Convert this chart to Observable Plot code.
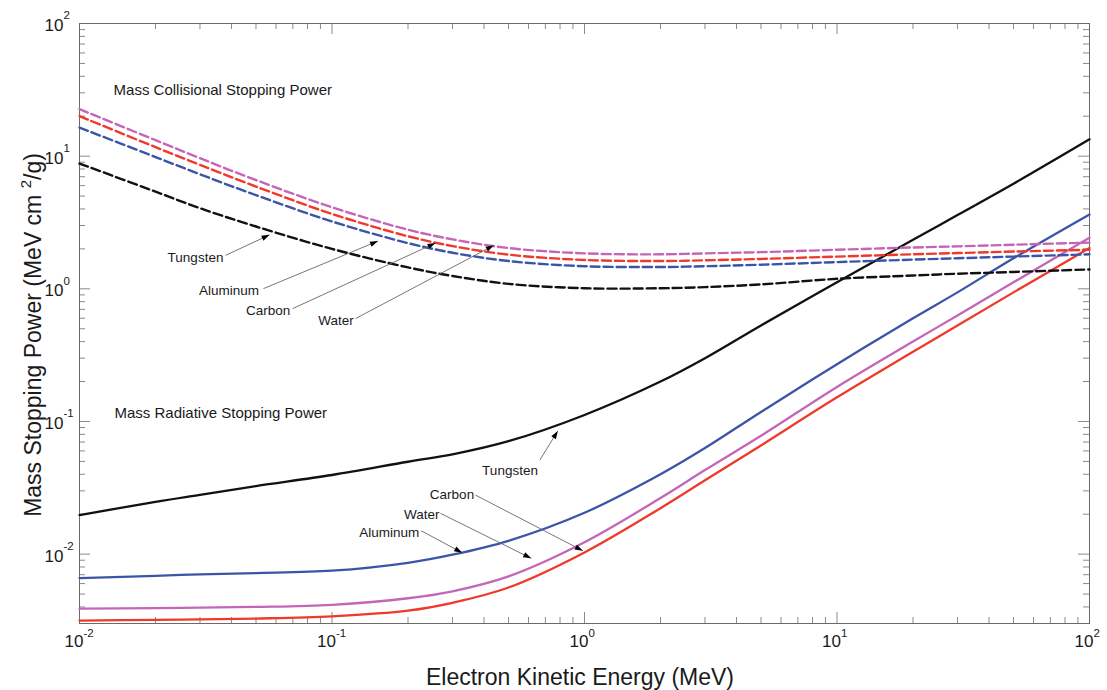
<!DOCTYPE html>
<html><head><meta charset="utf-8">
<script src="https://cdn.jsdelivr.net/npm/d3@7"></script>
<script src="https://cdn.jsdelivr.net/npm/@observablehq/plot@0.6"></script>
<style>
body{margin:0;background:#fff;}
svg{font-family:"Liberation Sans",Arial,sans-serif;}
</style>
</head><body><div id="chart"></div>
<script>
// ---- Data (MeV, MeV cm^2/g) ----
const energy = [0.01,0.02,0.03,0.05,0.1,0.2,0.3,0.5,1,2,3,5,10,20,30,50,100];
const materials = ["Tungsten","Aluminum","Carbon","Water"];
const materialColors = ["#111111","#3a55a8","#f0392b","#c466b8"];

const collisionalTungsten = [8.8,5.4,4.05,2.95,2.0,1.45,1.25,1.09,1.01,1.01,1.03,1.08,1.19,1.26,1.30,1.34,1.40];
const collisionalAluminum = [16.4,9.85,7.3,5.08,3.22,2.21,1.87,1.62,1.48,1.46,1.48,1.52,1.59,1.66,1.70,1.75,1.82];
const collisionalCarbon   = [20.0,11.7,8.6,5.9,3.67,2.49,2.10,1.81,1.65,1.62,1.64,1.68,1.75,1.82,1.86,1.91,1.97];
const collisionalWater    = [22.6,13.2,9.65,6.6,4.12,2.79,2.36,2.03,1.85,1.82,1.85,1.89,1.97,2.05,2.09,2.15,2.23];

const radiativeTungsten = [0.0197,0.0248,0.028,0.0326,0.0395,0.0497,0.0565,0.071,0.112,0.200,0.30,0.53,1.12,2.34,3.6,6.2,13.4];
const radiativeAluminum = [0.0066,0.00685,0.00705,0.0072,0.0075,0.0086,0.0099,0.0126,0.0205,0.040,0.063,0.118,0.27,0.60,0.94,1.70,3.64];
const radiativeCarbon   = [0.00315,0.0032,0.00322,0.00327,0.0034,0.00375,0.0043,0.0056,0.0103,0.0222,0.036,0.066,0.152,0.335,0.53,0.94,2.03];
const radiativeWater    = [0.00388,0.00392,0.00395,0.0040,0.00415,0.00465,0.00525,0.0068,0.0123,0.0265,0.043,0.078,0.182,0.40,0.63,1.12,2.43];

// tick labels
const xMajorTicks = [0.01,0.1,1,10,100];
const yMajorTicks = [0.01,0.1,1,10,100];

// annotations (data units)
const annotLabels = ["Tungsten","Aluminum","Carbon","Water","Tungsten","Carbon","Water","Aluminum"];
const annotTextE  = [0.0288,0.0391,0.0558,0.1037,0.507,0.2987,0.2268,0.1686];
const annotTextS  = [1.727,0.974,0.681,0.572,0.04246,0.02786,0.0197,0.0146];
const arrowE1 = [0.0379,0.0535,0.0698,0.1239,0.6652,0.3700,0.2689,0.2256];
const arrowS1 = [1.788,1.003,0.709,0.5964,0.05111,0.02786,0.02029,0.0150];
const arrowE2 = [0.0566,0.1521,0.2570,0.4373,0.7839,0.9847,0.6150,0.3278];
const arrowS2 = [2.551,2.290,2.213,2.126,0.0849,0.01061,0.009298,0.01024];

const sectionTitles = ["Mass Collisional Stopping Power","Mass Radiative Stopping Power"];
const sectionTitleE = [0.01364,0.01376];
const sectionTitleS = [31.6,0.1161];

// ---- Build tables ----
const collisional = {Tungsten:collisionalTungsten, Aluminum:collisionalAluminum, Carbon:collisionalCarbon, Water:collisionalWater};
const radiative = {Tungsten:radiativeTungsten, Aluminum:radiativeAluminum, Carbon:radiativeCarbon, Water:radiativeWater};
const colRows = [], radRows = [];
materials.forEach(m => energy.forEach((e,i) => {
  colRows.push({E:e, S:collisional[m][i], material:m});
  radRows.push({E:e, S:radiative[m][i], material:m});
}));
const annots = annotLabels.map((t,i) => ({label:t, tx:annotTextE[i], ty:annotTextS[i], x1:arrowE1[i], y1:arrowS1[i], x2:arrowE2[i], y2:arrowS2[i]}));
const titles = sectionTitles.map((t,i) => ({t, x:sectionTitleE[i], y:sectionTitleS[i]}));

// minor ticks
const xMinor = [], yMinor = [];
for (const d of [0.01,0.1,1,10]) for (let k=2;k<=9;k++) xMinor.push(d*k);
for (const d of [0.001,0.01,0.1,1,10]) for (let k=2;k<=9;k++) { const v=d*k; if (v>=0.0029999 && v<100) yMinor.push(v); }

const W=1107, H=690, mL=79, mR=18, mT=23, mB=67;
const pw=W-mL-mR, ph=H-mT-mB;
const majorLen=11, minorLen=6, tickColor="#8a8a8a";
const textColor="#1a1a1a";

const svg = Plot.plot({
  width:W, height:H, marginLeft:mL, marginRight:mR, marginTop:mT, marginBottom:mB,
  x:{type:"log", domain:[0.01,100], axis:null},
  y:{type:"log", domain:[0.003,100], axis:null},
  color:{domain:materials, range:materialColors},
  style:{fontFamily:'"Liberation Sans", Arial, sans-serif', background:"#fff"},
  marks:[
    // ticks (inward, all sides)
    Plot.tickX(xMajorTicks, {x:d=>d, insetTop:ph-majorLen, stroke:tickColor}),
    Plot.tickX(xMajorTicks, {x:d=>d, insetBottom:ph-majorLen, stroke:tickColor}),
    Plot.tickX(xMinor, {x:d=>d, insetTop:ph-minorLen, stroke:tickColor}),
    Plot.tickX(xMinor, {x:d=>d, insetBottom:ph-minorLen, stroke:tickColor}),
    Plot.tickY(yMajorTicks, {y:d=>d, insetRight:pw-majorLen, stroke:tickColor}),
    Plot.tickY(yMajorTicks, {y:d=>d, insetLeft:pw-majorLen, stroke:tickColor}),
    Plot.tickY(yMinor, {y:d=>d, insetRight:pw-minorLen, stroke:tickColor}),
    Plot.tickY(yMinor, {y:d=>d, insetLeft:pw-minorLen, stroke:tickColor}),
    Plot.frame({stroke:"#6a6a6a"}),
    // tick labels
    Plot.text(xMajorTicks, {x:d=>d, frameAnchor:"bottom", text:()=>"10", textAnchor:"end", dx:4, dy:23, fontSize:17, fill:textColor}),
    Plot.text(xMajorTicks, {x:d=>d, frameAnchor:"bottom", text:d=>String(Math.round(Math.log10(d))), textAnchor:"start", dx:4, dy:13, fontSize:11.5, fill:textColor}),
    Plot.text(yMajorTicks, {y:d=>d, frameAnchor:"left", text:()=>"10", textAnchor:"end", dx:-16, dy:2, fontSize:17, fill:textColor}),
    Plot.text(yMajorTicks, {y:d=>d, frameAnchor:"left", text:d=>String(Math.round(Math.log10(d))), textAnchor:"start", dx:-16, dy:-8, fontSize:11.5, fill:textColor}),
    // curves
    Plot.line(radRows, {x:"E", y:"S", z:"material", stroke:"material", strokeWidth:2.3, curve:"catmull-rom"}),
    Plot.line(colRows, {x:"E", y:"S", z:"material", stroke:"material", strokeWidth:2.4, strokeDasharray:"9,4", curve:"catmull-rom"}),
    // annotations
    Plot.link(annots, {x1:"x1", y1:"y1", x2:"x2", y2:"y2", stroke:"#666", strokeWidth:0.9, markerEnd:"arrow"}),
    Plot.text(annots, {x:"tx", y:"ty", text:"label", fontSize:13.5, fill:textColor}),
    Plot.text(titles, {x:"x", y:"y", text:"t", textAnchor:"start", fontSize:15, fill:textColor})
  ]
});

// filled arrowheads
svg.querySelectorAll("marker").forEach(m => {
  m.setAttribute("markerUnits","userSpaceOnUse");
  m.setAttribute("viewBox","-10 -6 12 12");
  m.setAttribute("markerWidth","12");
  m.setAttribute("markerHeight","12");
  m.setAttribute("refX","0"); m.setAttribute("refY","0");
  m.setAttribute("fill","#000"); m.setAttribute("stroke","none");
  d3.select(m).selectAll("*").remove();
  d3.select(m).append("path").attr("d","M-8,-2.7L0,0L-8,2.7Z");
});

// axis titles
const s = d3.select(svg);
s.append("text").attr("x", 580).attr("y", 685).attr("text-anchor","middle")
  .attr("font-size",23).attr("fill",textColor).text("Electron Kinetic Energy (MeV)");
const yt = s.append("text").attr("transform","translate(41,335) rotate(-90)").attr("text-anchor","middle")
  .attr("font-size",23).attr("fill",textColor);
yt.append("tspan").text("Mass Stopping Power (MeV cm ");
yt.append("tspan").attr("dy",-10).attr("font-size",15).text("2");
yt.append("tspan").attr("dy",10).text("/g)");

document.getElementById("chart").appendChild(svg);
</script>
</body></html>
